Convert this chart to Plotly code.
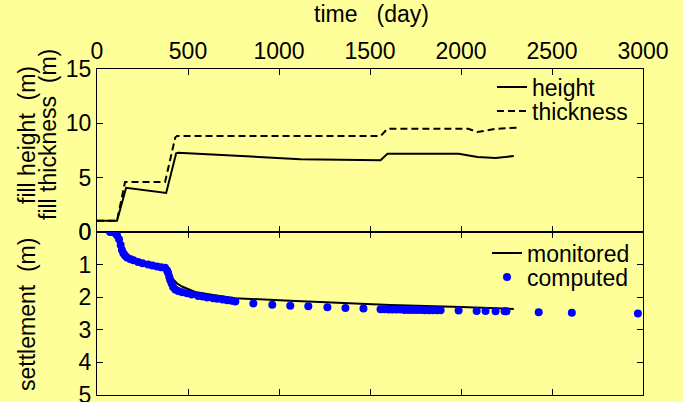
import plotly.graph_objects as go

# ---------------- data ----------------
height_t = [0, 110, 160, 380, 435, 446, 1117, 1558, 1596, 1987, 2091, 2190, 2290]
height_v = [1.04, 1.04, 4.07, 3.6, 7.25, 7.3, 6.7, 6.6, 7.2, 7.2, 6.9, 6.8, 7.0]

thick_t = [0, 110, 154, 374, 430, 440, 1558, 1596, 2040, 2090, 2190, 2317]
thick_v = [1.04, 1.04, 4.6, 4.6, 8.7, 8.83, 8.83, 9.5, 9.5, 9.2, 9.5, 9.6]

mon_t = [72, 99, 121, 137, 154, 182, 226, 281, 330, 374, 391, 402, 418, 440, 470,
         539, 638, 760, 1062, 1447, 1612, 2000, 2290]
mon_v = [0.0, 0.03, 0.22, 0.55, 0.72, 0.83, 0.92, 1.0, 1.06, 1.08, 1.2, 1.3, 1.45, 1.58, 1.68,
         1.84, 1.93, 2.03, 2.11, 2.21, 2.24, 2.30, 2.36]

comp_t = [72, 85, 99, 110, 121, 130, 137, 145, 154, 165, 182, 200, 226, 250, 281, 305,
          330, 352, 374, 385, 391, 397, 402, 410, 418, 430, 446, 468, 495, 520, 556,
          580, 605, 638, 660, 690, 715, 740, 760, 859, 963, 1062, 1161, 1266, 1365,
          1464, 1558, 1580, 1602, 1624, 1646, 1668, 1690, 1712, 1734, 1756, 1778,
          1800, 1822, 1844, 1866, 1888, 1987, 2086, 2135, 2190, 2240, 2250, 2427,
          2609, 2972]
comp_v = [0.0, 0.0, 0.03, 0.1, 0.22, 0.4, 0.55, 0.65, 0.72, 0.78, 0.83, 0.87, 0.92,
          0.96, 1.0, 1.03, 1.06, 1.08, 1.1, 1.18, 1.26, 1.37, 1.47, 1.58, 1.69, 1.76,
          1.81, 1.85, 1.88, 1.92, 1.96, 1.98, 2.01, 2.03, 2.05, 2.07, 2.09, 2.11,
          2.13, 2.19, 2.23, 2.26, 2.28, 2.31, 2.33, 2.35, 2.37, 2.37, 2.38, 2.38,
          2.38, 2.38, 2.39, 2.39, 2.39, 2.39, 2.39, 2.40, 2.40, 2.40, 2.40, 2.40,
          2.41, 2.42, 2.42, 2.43, 2.43, 2.43, 2.46, 2.48, 2.50]

x_ticks = [0, 500, 1000, 1500, 2000, 2500, 3000]
y1_ticks = [0, 5, 10, 15]
y2_ticks = [0, 1, 2, 3, 4, 5]

# ---------------- style ----------------
BG = "#FFFF99"
FONT = "Liberation Sans, Arial, sans-serif"
FS = 23

W, H = 683, 402
L, R, T, B = 97, 40, 69, 7
PW, PH = W - L - R, H - T - B


def px_x(p):
    return (p - L) / PW


def px_y(p):
    return (H - B - p) / PH


fig = go.Figure()

fig.add_trace(go.Scatter(x=height_t, y=height_v, mode="lines", name="height",
                         line=dict(color="black", width=2), xaxis="x", yaxis="y",
                         legend="legend"))
fig.add_trace(go.Scatter(x=thick_t, y=thick_v, mode="lines", name="thickness",
                         line=dict(color="black", width=2, dash="7px,4px"),
                         xaxis="x", yaxis="y", legend="legend2"))
fig.add_trace(go.Scatter(x=mon_t, y=mon_v, mode="lines", name="monitored",
                         line=dict(color="black", width=2), xaxis="x2", yaxis="y2",
                         legend="legend3"))
fig.add_trace(go.Scatter(x=comp_t, y=comp_v, mode="markers", name="computed",
                         marker=dict(color="#0000FF", size=8), xaxis="x2", yaxis="y2",
                         legend="legend4"))

axis_common = dict(showline=True, linecolor="black", linewidth=1, mirror="ticks",
                   ticks="inside", ticklen=6, tickwidth=1, tickcolor="black",
                   showgrid=False, zeroline=False, automargin=False,
                   ticklabeloverflow="allow",
                   tickfont=dict(family=FONT, size=FS, color="black"))

fig.update_layout(
    template="none",
    width=W, height=H,
    margin=dict(l=L, r=R, t=T, b=B, autoexpand=False),
    paper_bgcolor=BG, plot_bgcolor=BG,
    font=dict(family=FONT, size=FS, color="black"),
    showlegend=True,
    xaxis=dict(axis_common, range=[0, 3000], tickvals=x_ticks, side="top",
               anchor="y", domain=[0, 1]),
    xaxis2=dict(axis_common, range=[0, 3000], tickvals=x_ticks, showticklabels=False,
                anchor="y2", domain=[0, 1], matches="x"),
    yaxis=dict(axis_common, range=[0, 15], tickvals=y1_ticks, domain=[0.5, 1],
               anchor="x"),
    yaxis2=dict(axis_common, range=[5, 0], tickvals=y2_ticks, domain=[0, 0.5],
                anchor="x2"),
)

leg_common = dict(bgcolor="rgba(0,0,0,0)", borderwidth=0, xanchor="left",
                  yanchor="middle", font=dict(family=FONT, size=FS, color="black"))
fig.update_layout(
    legend=dict(leg_common, x=px_x(492), y=px_y(87)),
    legend2=dict(leg_common, x=px_x(492), y=px_y(111)),
    legend3=dict(leg_common, x=px_x(487), y=px_y(253)),
    legend4=dict(leg_common, x=px_x(487), y=px_y(277)),
)

ann = dict(xref="paper", yref="paper", showarrow=False,
           font=dict(family=FONT, size=FS, color="black"),
           xanchor="center", yanchor="middle")
fig.add_annotation(ann, text="time   (day)", x=px_x(371), y=px_y(14))
fig.add_annotation(ann, text="fill height  (m)", x=px_x(27), y=px_y(135), textangle=-90)
fig.add_annotation(ann, text="fill thickness  (m)", x=px_x(48), y=px_y(135), textangle=-90)
fig.add_annotation(ann, text="settlement  (m)", x=px_x(27), y=px_y(315), textangle=-90)

fig.write_html(
    "out.html",
    config={"displayModeBar": False},
    post_script="document.body.style.margin='0';document.body.style.overflow='hidden';"
                "document.body.style.background='" + BG + "';",
)
